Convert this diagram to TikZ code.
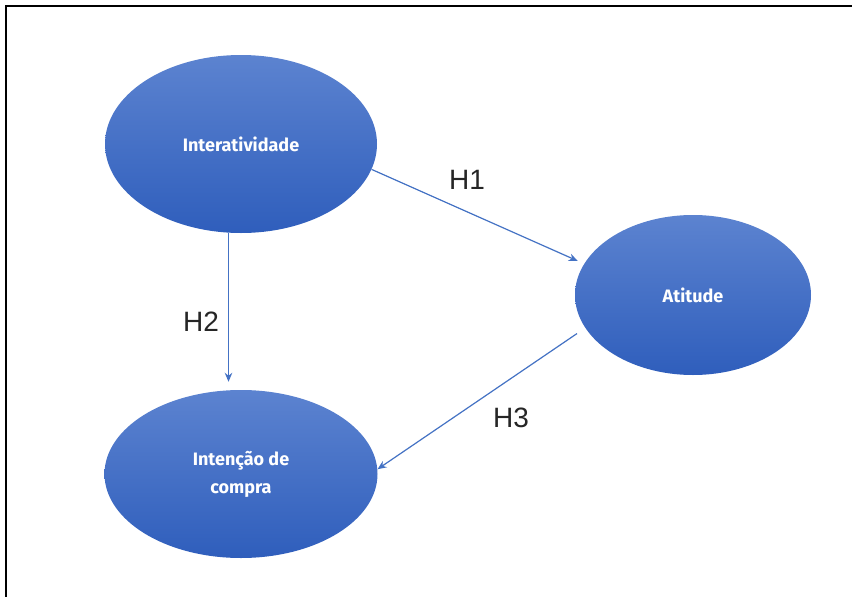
\documentclass[tikz,border=0pt]{standalone}
\usepackage{fontspec}
\usetikzlibrary{shapes.geometric,arrows.meta}
\newfontfamily\hfont{Liberation Sans}
\newfontfamily\nfont{Fira Sans}
\definecolor{arrowblue}{RGB}{68,114,196}
\definecolor{topblue}{RGB}{92,131,208}
\definecolor{botblue}{RGB}{47,94,188}
\begin{document}
\begin{tikzpicture}[x=1pt,y=-1pt,
  construct/.style={ellipse,shading=axis,top color=topblue,bottom color=botblue,
    draw=none,inner sep=0pt,text=white,align=center,
    font=\nfont\bfseries\fontsize{18}{28}\selectfont},
  link/.style={draw=arrowblue,line width=1.2pt,-{Stealth[length=9pt,width=7.5pt]}},
  hlabel/.style={font=\hfont\fontsize{28}{30}\selectfont,text=black!85}]
\useasboundingbox (0,0) rectangle (852,597);
\fill[white] (0,0) rectangle (852,597);
\draw[line width=2.2pt,black] (6,600) -- (6,6) -- (855,6);
\node[construct,minimum width=272pt,minimum height=178pt] (int) at (241,144) {Interatividade};
\node[construct,minimum width=236pt,minimum height=160pt] (att) at (693,295) {Atitude};
\node[construct,minimum width=273pt,minimum height=168pt] (ic) at (241,474) {Intenção de\\compra};
\draw[link,shorten >=7pt] (int.-11) -- (att.164);
\draw[link,shorten >=8pt] (int.-98) -- (int.-98 |- ic.north);
\draw[link,shorten <=10pt] (att.-163.5) -- (ic.2);
\node[hlabel] (h1) at (467,180) {H1};
\node[hlabel] (h2) at (201,322) {H2};
\node[hlabel] (h3) at (511,418) {H3};
\end{tikzpicture}
\end{document}
